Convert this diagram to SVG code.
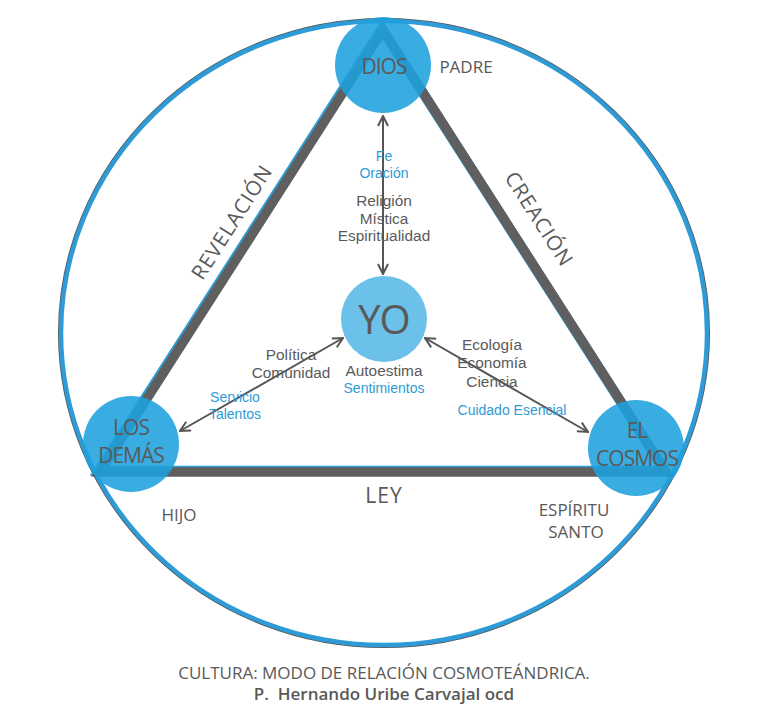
<svg xmlns="http://www.w3.org/2000/svg" width="768" height="710" viewBox="0 0 768 710">
<style>
text{font-family:"Open Sans","Liberation Sans",sans-serif;text-anchor:middle;fill:#595959}
.node{fill:#1ea0de;fill-opacity:0.88}
.big{font-size:21px;letter-spacing:-1px}
.g{font-family:"Liberation Sans",Arial,sans-serif;font-size:15.4px;fill:#5a5a5a}
.b{font-family:"Liberation Sans",Arial,sans-serif;font-size:14px;fill:#2e9bd6}
.lbl{font-size:17px}
.side{font-size:20.5px;letter-spacing:1px}
.arr{stroke:#555;stroke-width:2;fill:none}
</style>
<defs>
<marker id="ah" viewBox="0 0 12 12" refX="11" refY="6" markerWidth="12" markerHeight="12" markerUnits="userSpaceOnUse" orient="auto-start-reverse">
<path d="M1,1 L11,6 L1,11" fill="none" stroke="#555" stroke-width="2"/>
</marker>
</defs>
<rect width="768" height="710" fill="#fff"/>
<g id="frame">
<ellipse cx="384" cy="333" rx="325" ry="314" fill="none" stroke="#555" stroke-width="2"/>
<ellipse cx="384" cy="333" rx="323" ry="312" fill="none" stroke="#2e9bd6" stroke-width="4.5"/>
</g>
<g id="triangle">
<polygon points="383,30 100,472 666,472" transform="translate(-1.2,-1.2)" fill="none" stroke="#2e9bd6" stroke-width="10"/>
<polygon points="383,30 100,472 666,472" fill="none" stroke="#5f5f5f" stroke-width="9.5"/>
</g>
<g id="connectors">
<line class="arr" x1="383" y1="116" x2="383" y2="274" marker-start="url(#ah)" marker-end="url(#ah)"/>
<line class="arr" x1="343" y1="338" x2="180" y2="431" marker-start="url(#ah)" marker-end="url(#ah)"/>
<line class="arr" x1="425" y1="338" x2="588" y2="432" marker-start="url(#ah)" marker-end="url(#ah)"/>
</g>
<g id="dios">
<circle class="node" cx="383" cy="65" r="48"/>
<text class="big" x="384" y="74" font-size="23.5">DIOS</text>
</g>
<g id="yo">
<circle cx="384" cy="319" r="43" fill="#6cc1ea"/>
<text x="384" y="334" font-size="40" letter-spacing="-1">YO</text>
</g>
<g id="los-demas">
<circle class="node" cx="131" cy="444" r="48"/>
<text class="big" x="131" y="435">LOS</text>
<text class="big" x="131" y="463">DEMÁS</text>
</g>
<g id="el-cosmos">
<circle class="node" cx="636" cy="448" r="48"/>
<text class="big" x="637" y="438">EL</text>
<text class="big" x="637" y="466">COSMOS</text>
</g>
<g id="labels">
<text class="lbl" x="466" y="73">PADRE</text>
<text class="b" x="384" y="161">Fe</text>
<text class="b" x="384" y="178">Oración</text>
<text class="g" x="384" y="206">Religión</text>
<text class="g" x="384" y="223.5">Mística</text>
<text class="g" x="384" y="241">Espiritualidad</text>
<text class="g" x="291" y="360">Política</text>
<text class="g" x="291" y="377.5">Comunidad</text>
<text class="b" x="235" y="402">Servicio</text>
<text class="b" x="235" y="419">Talentos</text>
<text class="g" x="384" y="376">Autoestima</text>
<text class="b" x="384" y="393">Sentimientos</text>
<text class="g" x="492" y="350">Ecología</text>
<text class="g" x="492" y="368">Economía</text>
<text class="g" x="492" y="386.5">Ciencia</text>
<text class="b" x="512" y="415">Cuidado Esencial</text>
<text x="384" y="503" font-size="21" letter-spacing="1">LEY</text>
<text class="lbl" x="179" y="521">HIJO</text>
<text class="lbl" x="574" y="516">ESPÍRITU</text>
<text class="lbl" x="576" y="538">SANTO</text>
<text class="side" transform="translate(238,226) rotate(-57.4)">REVELACIÓN</text>
<text class="side" transform="translate(533,223) rotate(57.4)">CREACIÓN</text>
<text x="384" y="679" font-size="17" fill="#666">CULTURA: MODO DE RELACIÓN COSMOTEÁNDRICA.</text>
<text x="384" y="700" font-size="17" font-weight="600" fill="#555" xml:space="preserve">P.  Hernando Uribe Carvajal ocd</text>
</g>
</svg>
